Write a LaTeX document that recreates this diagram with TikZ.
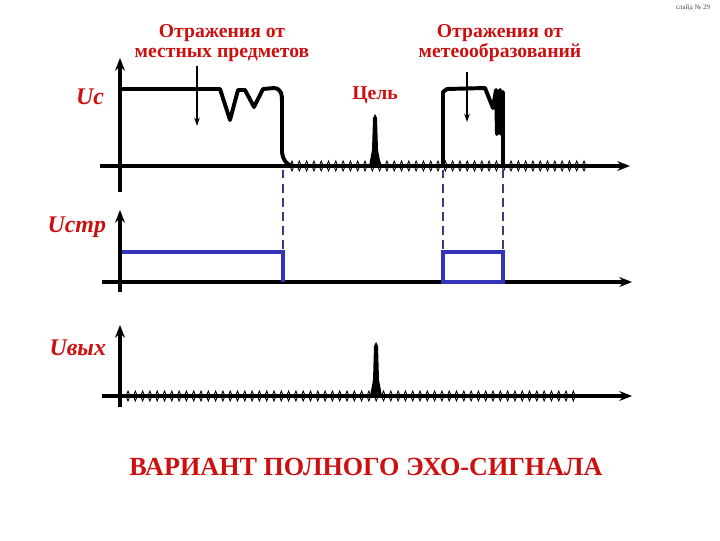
\documentclass[tikz,border=0pt]{standalone}
\usepackage{fontspec}
\setmainfont{Liberation Serif}
\usetikzlibrary{arrows.meta}
\definecolor{EchoRed}{HTML}{CC1010}
\definecolor{GateBlue}{HTML}{3434B8}
\definecolor{DashBlue}{HTML}{3A3A80}

\begin{document}
\begin{tikzpicture}[x=0.025cm, y=-0.025cm, >={Stealth[length=9pt,width=7pt]},
  axis/.style={->, line width=2.6pt},
  sig/.style={line width=2.8pt, line join=round, line cap=round},
  gate/.style={line width=2.2pt, GateBlue},
  strob/.style={DashBlue, line width=1.2pt, dash pattern=on 6pt off 4pt},
  caption/.style={EchoRed, font=\bfseries\fontsize{14}{14.5}\selectfont, align=center},
  axlabel/.style={EchoRed, font=\bfseries\itshape\fontsize{17}{18}\selectfont, anchor=east},
  noise/.style={line width=0.6pt},
  pointer/.style={->, line width=1pt, >={Stealth[length=6pt,width=4pt]}}]
\useasboundingbox (0,0) rectangle (720,540);

% axes
\draw[axis] (100,166) -- (630,166);
\draw[axis] (120,192) -- (120,58);
\draw[axis] (102,282) -- (632,282);
\draw[axis] (120,292) -- (120,210);
\draw[axis] (102,396) -- (632,396);
\draw[axis] (120,407) -- (120,325);

% noise
\foreach \x in {292,299.3,...,588}
  \draw[noise] (\x,161) -- ({\x+2},166) -- (\x,171) -- ({\x-2},166) -- cycle;
\foreach \x in {128,135.3,...,577}
  \draw[noise] (\x,391) -- ({\x+2},396) -- (\x,401) -- ({\x-2},396) -- cycle;

% echo signal
\draw[sig] (122,89) -- (220,89) -- (230,120) -- (238,90) -- (245,90) -- (254,107) -- (263,89) -- (274,88)
  .. controls (282,89) and (282,95) .. (282,102) -- (282,152) .. controls (283,160) and (286,164) .. (292,166);
\fill (369,166) -- (372,150) -- (373,118) -- (375,114) -- (377,118) -- (378,150) -- (381,166) -- cycle;
\draw[sig] (443,166) -- (443,92) -- (447,89) -- (485,88) -- (493,108) -- (496,90) -- (497,134) -- (500,90)
  -- (501,134) -- (503,92) -- (503,166);

% gate
\draw[strob] (283,170) -- (283,250);
\draw[strob] (443,170) -- (443,250);
\draw[strob] (503,170) -- (503,250);
\draw[gate] (122,252) -- (283,252) -- (283,282);
\draw[gate] (443,282) rectangle (503,252);

% output
\fill (370,396) -- (373,380) -- (374,346) -- (376,342) -- (378,346) -- (379,380) -- (382,396) -- cycle;

% labels
\node[caption] (local) at (222,43) {Отражения от\\местных предметов};
\node[caption] (meteo) at (500,43) {Отражения от\\метеообразований};
\node[caption] (target) at (375,95) {Цель};
\node[axlabel] (uc) at (109,97) {Uс};
\node[axlabel] (ustr) at (111,227) {Uстр};
\node[axlabel] (uout) at (111,348) {Uвых};
\node[EchoRed, font=\bfseries\fontsize{18.6}{20}\selectfont] (title) at (366,467) {ВАРИАНТ ПОЛНОГО ЭХО-СИГНАЛА};
\node[font=\fontsize{5}{6}\selectfont, black!70] (slide) at (693,8) {слайд № 29};

\draw[pointer] (197,66) -- (197,126);
\draw[pointer] (467,72) -- (467,122);
\end{tikzpicture}
\end{document}
